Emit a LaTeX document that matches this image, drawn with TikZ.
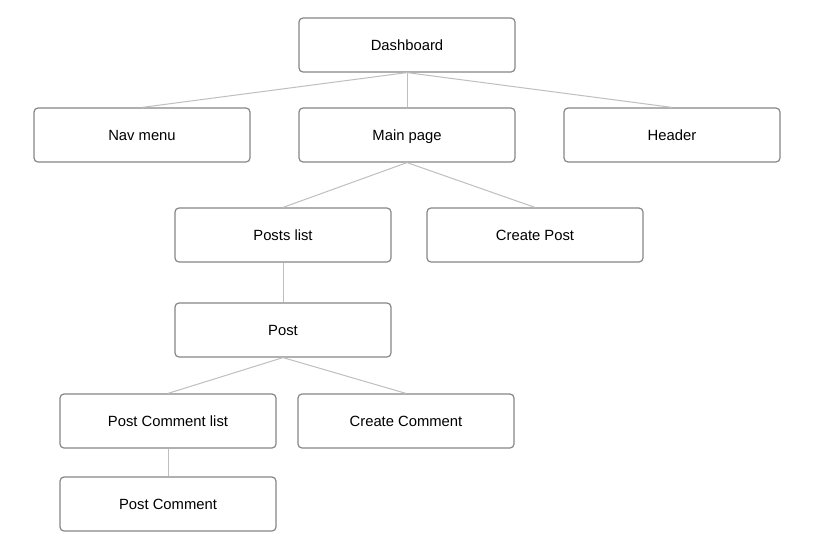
\documentclass[tikz,border=0pt]{standalone}
\usepackage{fontspec}
\setmainfont{Liberation Sans}
\begin{document}
\begin{tikzpicture}[x=1pt,y=-1pt,
  box/.style={draw=black!47, line width=1.2pt, rounded corners=4pt, minimum width=216pt, minimum height=54pt, inner sep=0pt, text height=13pt, text depth=1.5pt, font=\fontsize{14.8}{17}\selectfont, text=black, fill=white},
  link/.style={draw=black!25, line width=1pt}]
\useasboundingbox (0,0) rectangle (819,544);
\fill[white] (0,0) rectangle (819,544);
\node[box] (dash) at (407,45) {Dashboard};
\node[box] (nav) at (142,135) {Nav menu};
\node[box] (main) at (407,135) {Main page};
\node[box] (head) at (672,135) {Header};
\node[box] (plist) at (283,235) {Posts list};
\node[box] (cpost) at (535,235) {Create Post};
\node[box] (post) at (283,330) {Post};
\node[box] (pcl) at (168,421) {Post Comment list};
\node[box] (ccom) at (406,421) {Create Comment};
\node[box] (pc) at (168,504) {Post Comment};
\draw[link] (dash.south) -- (nav.north);
\draw[link] (dash.south) -- (main.north);
\draw[link] (dash.south) -- (head.north);
\draw[link] (main.south) -- (plist.north);
\draw[link] (main.south) -- (cpost.north);
\draw[link] (plist.south) -- (post.north);
\draw[link] (post.south) -- (pcl.north);
\draw[link] (post.south) -- (ccom.north);
\draw[link] (pcl.south) -- (pc.north);
\end{tikzpicture}
\end{document}
